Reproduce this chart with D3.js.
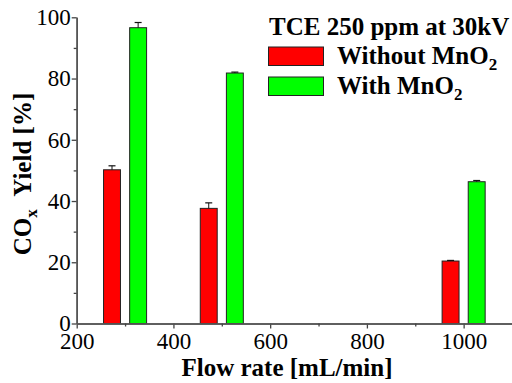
<!DOCTYPE html>
<html>
<head>
<meta charset="utf-8">
<script src="https://cdn.jsdelivr.net/npm/d3@7"></script>
</head>
<body style="margin:0;background:#fff">
<script>
// flow rates (mL/min) and COx yield values
var flows = [300, 500, 1000];
var withoutMn = [50.2, 37.6, 20.4];
var withoutErr = [1.3, 1.8, 0.2];
var withMn = [96.6, 81.8, 46.3];
var withErr = [1.7, 0.3, 0.4];
var xTicks = [200, 400, 600, 800, 1000];
var xMinor = [300, 500, 700, 900];
var yTicks = [0, 20, 40, 60, 80, 100];
var yMinor = [10, 30, 50, 70, 90];

var w = 512, h = 383;
var offset = 27, barW = 35; // in flow units
var fontName = "Liberation Serif";

var svg = d3.select("body").append("svg")
    .attr("width", w).attr("height", h)
    .attr("font-family", fontName)
    .style("font-family", "'" + fontName + "'");

var x = d3.scaleLinear().domain([200, 1100]).range([76.7, 512]);
var y = d3.scaleLinear().domain([0, 100]).range([323.5, 17.3]);

var series = [
    {vals: withoutMn, err: withoutErr, dx: -offset, color: "#ff0000"},
    {vals: withMn, err: withErr, dx: offset, color: "#00ff00"}
];

series.forEach(function(s){
    var g = svg.append("g");
    g.selectAll("rect").data(flows).enter().append("rect")
        .attr("x", function(d){ return x(d + s.dx - barW/2); })
        .attr("width", function(d){ return x(d + s.dx + barW/2) - x(d + s.dx - barW/2); })
        .attr("y", function(d, i){ return y(s.vals[i]); })
        .attr("height", function(d, i){ return y(0) - y(s.vals[i]); })
        .attr("fill", s.color)
        .attr("stroke", "#222")
        .attr("stroke-width", 1);
    // error bars (upper only)
    g.selectAll("line.e").data(flows).enter().append("line")
        .attr("x1", function(d){ return x(d + s.dx); })
        .attr("x2", function(d){ return x(d + s.dx); })
        .attr("y1", function(d, i){ return y(s.vals[i]); })
        .attr("y2", function(d, i){ return y(s.vals[i] + s.err[i]); })
        .attr("stroke", "#111").attr("stroke-width", 1);
    g.selectAll("line.c").data(flows).enter().append("line")
        .attr("x1", function(d){ return x(d + s.dx) - 3.5; })
        .attr("x2", function(d){ return x(d + s.dx) + 3.5; })
        .attr("y1", function(d, i){ return y(s.vals[i] + s.err[i]); })
        .attr("y2", function(d, i){ return y(s.vals[i] + s.err[i]); })
        .attr("stroke", "#111").attr("stroke-width", 1.2);
});

// axes
svg.append("g").attr("transform", "translate(0," + y(0) + ")")
    .call(d3.axisBottom(x).tickValues(xTicks).tickSize(5).tickSizeOuter(0)
        .tickPadding(4).tickFormat(d3.format("d")));
svg.append("g").attr("transform", "translate(0," + y(0) + ")")
    .call(d3.axisBottom(x).tickValues(xMinor).tickSize(3).tickSizeOuter(0).tickFormat(""));
svg.append("g").attr("transform", "translate(" + x(200) + ",0)")
    .call(d3.axisLeft(y).tickValues(yTicks).tickSize(5).tickSizeOuter(0).tickPadding(1));
svg.append("g").attr("transform", "translate(" + x(200) + ",0)")
    .call(d3.axisLeft(y).tickValues(yMinor).tickSize(3).tickSizeOuter(0).tickFormat(""));

svg.selectAll("g").attr("font-family", fontName);
svg.selectAll(".domain").attr("stroke", "#555").attr("stroke-width", 1.6);
svg.selectAll(".tick line").attr("stroke", "#444").attr("stroke-width", 1.3);
svg.selectAll(".tick text").attr("font-size", 23).attr("fill", "#000");

// axis titles
svg.append("text")
    .attr("x", 287).attr("y", 376)
    .attr("text-anchor", "middle")
    .attr("font-size", 25).attr("font-weight", "bold")
    .text("Flow rate [mL/min]");

var yt = svg.append("text")
    .attr("transform", "translate(31,174) rotate(-90)")
    .attr("text-anchor", "middle")
    .attr("font-size", 25).attr("font-weight", "bold");
yt.append("tspan").text("CO");
yt.append("tspan").attr("dy", 6).attr("font-size", 17).text("x");
yt.append("tspan").attr("dy", -6).text("\u00a0\u00a0Yield [%]");

// legend
svg.append("text")
    .attr("x", 269).attr("y", 35)
    .attr("font-size", 25).attr("font-weight", "bold")
    .text("TCE 250 ppm at 30kV");

var legend = [
    {label: "Without MnO", color: "#ff0000", y: 47},
    {label: "With MnO", color: "#00ff00", y: 77}
];
legend.forEach(function(l){
    svg.append("rect")
        .attr("x", 268.5).attr("y", l.y)
        .attr("width", 55).attr("height", 18.5)
        .attr("fill", l.color).attr("stroke", "#222").attr("stroke-width", 1);
    var t = svg.append("text")
        .attr("x", 337).attr("y", l.y + 16.5)
        .attr("font-size", 25).attr("font-weight", "bold");
    t.append("tspan").text(l.label);
    t.append("tspan").attr("dy", 6).attr("font-size", 17).text("2");
});
</script>
</body>
</html>
